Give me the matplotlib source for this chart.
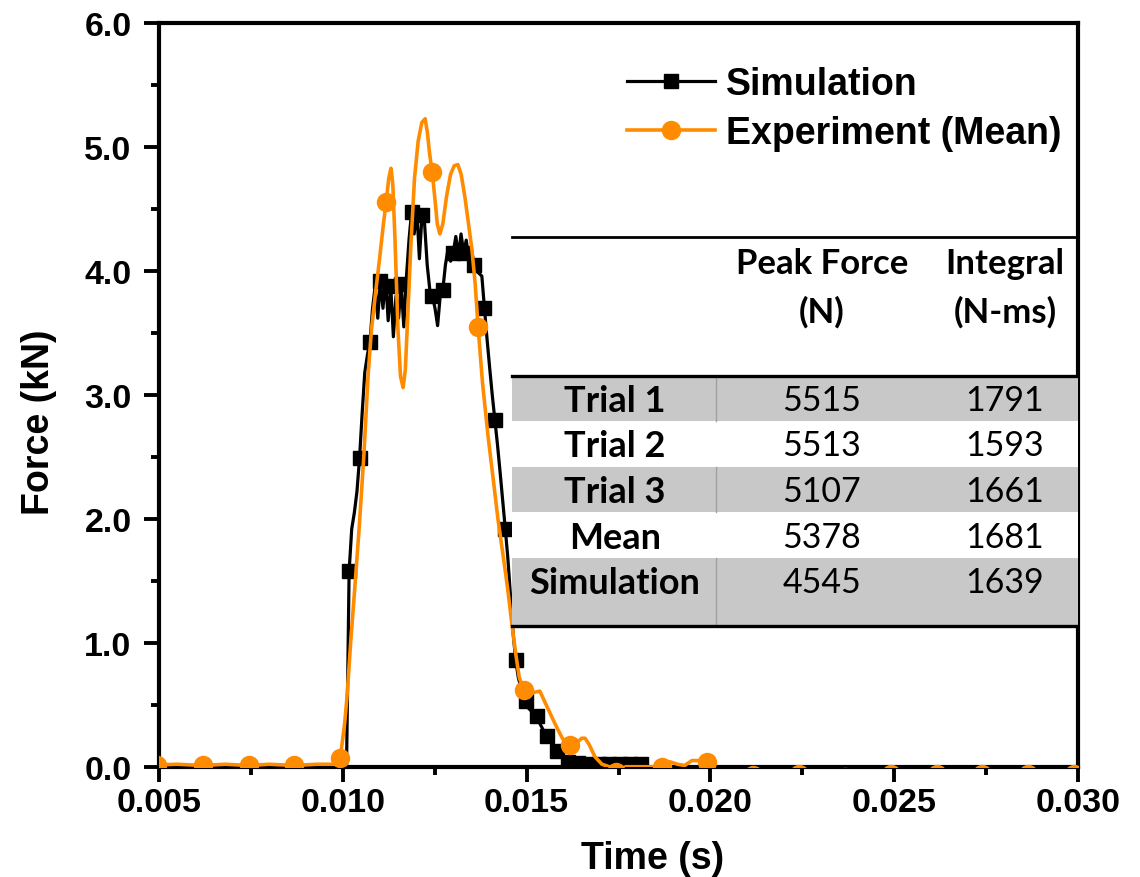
import matplotlib
matplotlib.use("Agg")
import matplotlib.pyplot as plt
from matplotlib.ticker import MultipleLocator, FormatStrFormatter
from matplotlib.patches import Rectangle
from matplotlib.lines import Line2D
import numpy as np

# ---- Simulation: uniformly sampled force trace (kN), sample interval in ms ----
sim_start_ms = 10.03
sim_step_ms = 0.0708
sim_force_kn = [
    0.00, 0.00, 1.58, 1.92, 2.05, 2.22, 2.49, 2.85, 3.18, 3.32,
    3.43, 3.70, 3.88, 3.62, 3.92, 3.70, 3.95, 3.60, 3.88, 3.47,
    3.80, 3.62, 3.90, 3.55, 3.95, 4.25, 4.48, 4.30, 4.50, 4.10,
    4.45, 4.38, 4.05, 3.85, 3.80, 3.70, 3.56, 3.80, 3.85, 4.05,
    4.18, 4.08, 4.15, 4.28, 4.12, 4.30, 4.15, 4.25, 4.10, 4.18,
    4.05, 4.00, 3.98, 3.96, 3.70, 3.45, 3.22, 3.00, 2.80, 2.60,
    2.38, 2.15, 1.92, 1.68, 1.38, 1.08, 0.86, 0.72, 0.64, 0.60,
    0.53, 0.47, 0.45, 0.43, 0.41, 0.36, 0.32, 0.28, 0.25, 0.21,
    0.18, 0.16, 0.13, 0.10, 0.07, 0.05, 0.04, 0.04, 0.03, 0.03,
    0.03, 0.03, 0.02, 0.03, 0.02, 0.02, 0.02, 0.03, 0.02, 0.02,
    0.02, 0.02, 0.02, 0.02, 0.02, 0.02, 0.02, 0.02, 0.02, 0.02,
    0.02, 0.02, 0.02, 0.02, 0.02, 0.02, 0.01,
]

# ---- Experiment (mean of three trials) ----
exp_time_ms = [
    4.94, 5.50, 6.19, 6.80, 7.44, 8.00, 8.68, 9.30, 9.80, 9.93,
    10.05, 10.11, 10.22, 10.33, 10.45, 10.57, 10.69, 10.78, 10.90, 11.00,
    11.10, 11.18, 11.25, 11.31, 11.36, 11.42, 11.50, 11.57, 11.64, 11.70,
    11.75, 11.85, 11.95, 12.05, 12.15, 12.24, 12.30, 12.36, 12.43, 12.50,
    12.57, 12.64, 12.72, 12.82, 12.93, 13.03, 13.13, 13.22, 13.32, 13.42,
    13.51, 13.60, 13.68, 13.80, 13.95, 14.10, 14.22, 14.41, 14.50, 14.60,
    14.70, 14.80, 14.92, 15.04, 15.20, 15.36, 15.50, 15.72, 15.85, 15.99,
    16.17, 16.35, 16.50, 16.59, 16.70, 16.86, 17.05, 17.25, 17.42, 17.70,
    18.00, 18.30, 18.67, 18.90, 19.10, 19.30, 19.50, 19.70, 19.92, 20.20,
    21.16, 22.41, 23.66, 24.91, 26.16, 27.40, 28.65, 29.90, 30.00,
]
exp_force_kn = [
    0.015, 0.02, 0.01, 0.02, 0.01, 0.02, 0.01, 0.02, 0.02, 0.07,
    0.35, 0.55, 1.03, 1.46, 1.95, 2.50, 3.17, 3.53, 3.85, 4.10,
    4.37, 4.56, 4.75, 4.83, 4.70, 4.25, 3.53, 3.15, 3.06, 3.20,
    3.53, 4.20, 4.75, 5.05, 5.20, 5.23, 5.12, 4.95, 4.80, 4.60,
    4.38, 4.30, 4.38, 4.60, 4.78, 4.85, 4.86, 4.78, 4.60, 4.38,
    4.18, 3.90, 3.55, 3.10, 2.67, 2.30, 2.00, 1.60, 1.40, 1.15,
    0.92, 0.72, 0.62, 0.57, 0.60, 0.61, 0.52, 0.38, 0.30, 0.22,
    0.175, 0.19, 0.23, 0.23, 0.18, 0.08, 0.02, 0.00, -0.04, 0.00,
    0.00, 0.00, 0.00, 0.04, 0.02, 0.01, 0.05, 0.05, 0.04, -0.03,
    -0.07, -0.055, -0.08, -0.055, -0.055, -0.06, -0.06, -0.055, -0.05,
]
exp_marker_ms = [4.94, 6.19, 7.44, 8.68, 9.93, 11.18, 12.43, 13.68, 14.92,
                 16.17, 17.42, 18.67, 19.92, 21.16, 22.41, 23.66, 24.91,
                 26.16, 27.40, 28.65, 29.90]

# ---- Summary table ----
table_rows = ["Trial 1", "Trial 2", "Trial 3", "Mean", "Simulation"]
peak_force_n = [5515, 5513, 5107, 5378, 4545]
integral_nms = [1791, 1593, 1661, 1681, 1639]
header_peak = ["Peak Force", "(N)"]
header_integral = ["Integral", "(N-ms)"]

# ---- figure ----
plt.rcParams["font.family"] = ["Liberation Sans", "DejaVu Sans"]
plt.rcParams["font.weight"] = "bold"

fig = plt.figure(figsize=(11.4, 8.78), dpi=100)
ax = fig.add_axes([0.1395, 0.1256, 0.8061, 0.8467])

orange = "#ff8c00"
sim_time_s = (sim_start_ms + sim_step_ms * np.arange(len(sim_force_kn))) / 1000.0
exp_time_s = np.array(exp_time_ms) / 1000.0
exp_mark_idx = [exp_time_ms.index(t) for t in exp_marker_ms]

ax.plot(sim_time_s, sim_force_kn, color="black", lw=2.3, marker="s",
        markersize=10.5, markevery=(2, 4), zorder=3, label="Simulation")
ax.plot(exp_time_s, exp_force_kn, color=orange, lw=2.6, marker="o",
        markersize=13, markevery=exp_mark_idx, zorder=4,
        label="Experiment (Mean)")

ax.set_xlim(0.005, 0.030)
ax.set_ylim(0.0, 6.0)
ax.xaxis.set_major_locator(MultipleLocator(0.005))
ax.xaxis.set_minor_locator(MultipleLocator(0.0025))
ax.yaxis.set_major_locator(MultipleLocator(1.0))
ax.yaxis.set_minor_locator(MultipleLocator(0.5))
ax.xaxis.set_major_formatter(FormatStrFormatter("%.3f"))
ax.yaxis.set_major_formatter(FormatStrFormatter("%.1f"))

for s in ax.spines.values():
    s.set_linewidth(3.0)
ax.tick_params(which="major", direction="out", length=10.8, width=2.8,
               labelsize=24.5)
ax.tick_params(axis="x", which="major", pad=4)
ax.tick_params(axis="y", which="major", pad=9)
ax.tick_params(which="minor", direction="out", length=5.8, width=2.8)
for lab in ax.get_xticklabels() + ax.get_yticklabels():
    lab.set_fontweight("bold")

ax.set_xlabel("Time (s)", fontsize=27, fontweight="bold")
ax.set_ylabel("Force (kN)", fontsize=27, fontweight="bold")
ax.xaxis.set_label_coords(0.5375, -0.098)
ax.yaxis.set_label_coords(-0.111, 0.465)

leg = ax.legend(loc="upper left", bbox_to_anchor=(0.509, 0.943), frameon=False,
                fontsize=27, handlelength=2.35, handletextpad=0.3,
                borderpad=0, borderaxespad=0, labelspacing=0.36, numpoints=1)
for t in leg.get_texts():
    t.set_fontweight("bold")

# ---- table drawn in axes coordinates ----
tf = ax.transAxes
x_left, x_right = 0.384, 1.0
x_div = 0.606
row_edges = [0.5262, 0.4650, 0.4038, 0.3426, 0.2807, 0.1892]
row_text_y = [0.4931, 0.4326, 0.3707, 0.3088, 0.2483]
col_x = [0.496, 0.7214, 0.9206]
gray = "#c8c8c8"
tfont = ["Lato", "DejaVu Sans"]

for r in range(len(table_rows)):
    top, bot = row_edges[r], row_edges[r + 1]
    face = gray if r % 2 == 0 else "white"
    ax.add_patch(Rectangle((x_left, bot), x_right - x_left, top - bot,
                           transform=tf, facecolor=face, edgecolor="none",
                           zorder=6, clip_on=False))
    if r % 2 == 0:
        ax.add_line(Line2D([x_div, x_div], [bot, top], transform=tf,
                           color="#a0a0a0", lw=1.0, zorder=7))
    ax.text(col_x[0], row_text_y[r], table_rows[r], transform=tf, ha="center",
            va="center", fontsize=26, fontweight="bold", family=tfont, zorder=8)
    ax.text(col_x[1], row_text_y[r], str(peak_force_n[r]), transform=tf,
            ha="center", va="center", fontsize=24.5, fontweight="normal",
            family=tfont, zorder=8)
    ax.text(col_x[2], row_text_y[r], str(integral_nms[r]), transform=tf,
            ha="center", va="center", fontsize=24.5, fontweight="normal",
            family=tfont, zorder=8)

for y, lw in [(0.7125, 2.0), (0.5262, 2.4), (0.1892, 2.4)]:
    ax.add_line(Line2D([x_left, x_right], [y, y], transform=tf, color="black",
                       lw=lw, zorder=9))

for hx, lines in [(col_x[1], header_peak), (col_x[2], header_integral)]:
    for y, s in zip([0.6775, 0.6129], lines):
        ax.text(hx, y, s, transform=tf, ha="center", va="center", fontsize=25,
                fontweight="bold", family=tfont, zorder=8)

fig.savefig("out.png", dpi=100, facecolor="white")
